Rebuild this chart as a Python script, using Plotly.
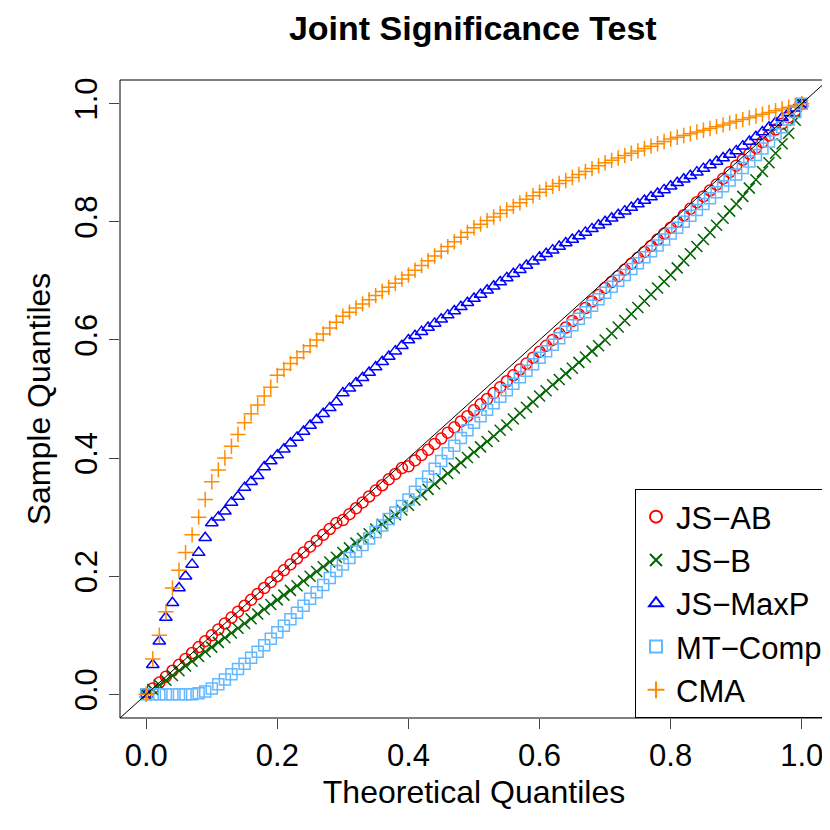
import plotly.graph_objects as go

theo = [round(i * 0.01, 2) for i in range(101)]

js_ab = [0.00,0.01,0.02,0.03,0.04,0.05,0.06,0.07,0.08,0.09,
0.10,0.11,0.12,0.13,0.14,0.15,0.16,0.17,0.18,0.19,
0.20,0.21,0.22,0.23,0.24,0.25,0.26,0.27,0.28,0.29,
0.295,0.305,0.315,0.325,0.335,0.345,0.354,0.364,0.373,0.383,
0.386,0.396,0.405,0.414,0.424,0.433,0.443,0.452,0.462,0.471,
0.481,0.491,0.500,0.510,0.520,0.530,0.540,0.550,0.560,0.570,
0.580,0.590,0.600,0.611,0.621,0.632,0.643,0.654,0.665,0.676,
0.688,0.698,0.708,0.719,0.729,0.739,0.749,0.759,0.770,0.780,
0.790,0.800,0.811,0.822,0.833,0.843,0.853,0.863,0.873,0.884,
0.895,0.905,0.915,0.925,0.935,0.946,0.956,0.966,0.977,0.988,
1.0]

js_b = [0.000,0.008,0.016,0.024,0.032,0.040,0.048,0.056,0.064,0.072,
0.080,0.088,0.096,0.104,0.112,0.120,0.128,0.136,0.144,0.152,
0.160,0.168,0.176,0.184,0.192,0.200,0.208,0.216,0.224,0.232,
0.240,0.248,0.256,0.264,0.272,0.280,0.288,0.296,0.304,0.312,
0.320,0.329,0.338,0.347,0.356,0.365,0.374,0.383,0.392,0.401,
0.410,0.419,0.428,0.437,0.447,0.456,0.466,0.476,0.486,0.495,
0.505,0.514,0.524,0.533,0.543,0.552,0.562,0.571,0.581,0.590,
0.600,0.611,0.622,0.633,0.644,0.655,0.666,0.677,0.688,0.699,
0.710,0.722,0.734,0.746,0.758,0.770,0.782,0.794,0.806,0.818,
0.830,0.843,0.857,0.871,0.885,0.900,0.916,0.932,0.950,0.972,
1.000]

mt_comp = [0,0,0,0,0,0,0,0,0.002,0.005,
0.010,0.017,0.025,0.034,0.043,0.052,0.062,0.072,0.083,0.094,
0.105,0.116,0.127,0.138,0.150,0.162,0.173,0.185,0.197,0.209,
0.220,0.231,0.242,0.253,0.264,0.275,0.286,0.297,0.308,0.319,
0.330,0.343,0.356,0.369,0.382,0.395,0.408,0.421,0.434,0.447,
0.460,0.471,0.482,0.493,0.504,0.515,0.526,0.537,0.548,0.559,
0.570,0.581,0.592,0.603,0.614,0.625,0.636,0.647,0.658,0.669,
0.680,0.690,0.700,0.710,0.720,0.730,0.740,0.750,0.760,0.770,
0.780,0.790,0.800,0.810,0.820,0.830,0.840,0.850,0.860,0.870,
0.880,0.891,0.902,0.913,0.924,0.936,0.948,0.960,0.973,0.986,
1.0]

js_maxp = [0,0.05,0.09,0.13,0.155,0.18,0.20,0.22,0.24,0.265,
0.29,0.30,0.31,0.325,0.335,0.35,0.36,0.37,0.385,0.395,
0.405,0.415,0.425,0.435,0.445,0.455,0.465,0.475,0.485,0.495,
0.51,0.518,0.527,0.536,0.545,0.554,0.563,0.572,0.581,0.590,
0.60,0.607,0.614,0.621,0.628,0.635,0.642,0.649,0.656,0.663,
0.67,0.677,0.684,0.691,0.698,0.705,0.712,0.719,0.726,0.733,
0.74,0.746,0.752,0.758,0.764,0.770,0.776,0.782,0.788,0.794,
0.80,0.806,0.812,0.818,0.824,0.830,0.836,0.842,0.848,0.854,
0.86,0.866,0.872,0.878,0.884,0.890,0.896,0.902,0.908,0.914,
0.92,0.928,0.936,0.944,0.952,0.960,0.968,0.976,0.984,0.992,
1.0]

cma = [0,0.06,0.10,0.14,0.18,0.21,0.24,0.27,0.30,0.33,
0.36,0.38,0.40,0.42,0.44,0.46,0.475,0.49,0.505,0.52,
0.54,0.55,0.56,0.57,0.58,0.59,0.60,0.61,0.62,0.63,
0.64,0.647,0.654,0.661,0.668,0.675,0.682,0.689,0.696,0.703,
0.71,0.718,0.726,0.734,0.742,0.750,0.758,0.766,0.774,0.782,
0.79,0.796,0.802,0.808,0.814,0.820,0.826,0.832,0.838,0.844,
0.85,0.855,0.860,0.865,0.870,0.875,0.880,0.885,0.890,0.895,
0.90,0.904,0.908,0.912,0.916,0.920,0.924,0.928,0.932,0.936,
0.94,0.943,0.946,0.949,0.952,0.955,0.958,0.961,0.964,0.967,
0.97,0.973,0.976,0.979,0.982,0.985,0.988,0.991,0.994,0.997,
1.0]

series = [
    ("JS\u2212AB", js_ab, "circle-open", "#FF0000"),
    ("JS\u2212B", js_b, "x-thin-open", "#006400"),
    ("JS\u2212MaxP", js_maxp, "triangle-up-open", "#0000FF"),
    ("MT\u2212Comp", mt_comp, "square-open", "#63B8FF"),
    ("CMA", cma, "cross-thin-open", "#FF8C00"),
]

fig = go.Figure()
for name, ys, sym, col in series:
    fig.add_trace(go.Scatter(x=theo, y=ys, mode="markers", name=name,
        marker=dict(symbol=sym, size=11, color=col, line=dict(color=col, width=1.5))))

fig.add_shape(type="line", x0=-0.04, y0=-0.04, x1=1.04, y1=1.04, line=dict(color="black", width=1))
fig.add_shape(type="rect", xref="paper", yref="paper", x0=0, y0=0, x1=1, y1=1, line=dict(color="black", width=1))

font = "Liberation Sans, Arial, sans-serif"
ticks = [0, 0.2, 0.4, 0.6, 0.8, 1.0]
fig.update_layout(
    width=830, height=830, plot_bgcolor="white", paper_bgcolor="white",
    margin=dict(l=112, r=10, t=72, b=120),
    font=dict(family=font, size=31, color="black"),
    title=dict(text="<b>Joint Significance Test</b>", x=0.56, xanchor="center", y=0.99, yanchor="top",
               font=dict(size=34)),
    xaxis=dict(range=[-0.04, 1.04], tickvals=ticks, ticktext=["0.0","0.2","0.4","0.6","0.8","1.0"],
               ticks="outside", ticklen=10, showgrid=False, zeroline=False, tickfont=dict(size=31),
               title=dict(text="Theoretical Quantiles", standoff=8, font=dict(size=32))),
    yaxis=dict(range=[-0.04, 1.04], tickvals=ticks, ticktext=["0.0","0.2","0.4","0.6","0.8","1.0"],
               ticks="outside", ticklen=10, tickangle=-90, showgrid=False, zeroline=False, tickfont=dict(size=31),
               title=dict(text="Sample Quantiles", standoff=8, font=dict(size=32))),
    legend=dict(x=1, y=0, xanchor="right", yanchor="bottom", bordercolor="black", borderwidth=1,
                bgcolor="white", font=dict(size=31), itemsizing="constant", tracegroupgap=6),
    showlegend=True,
)
fig.write_html("out.html")
